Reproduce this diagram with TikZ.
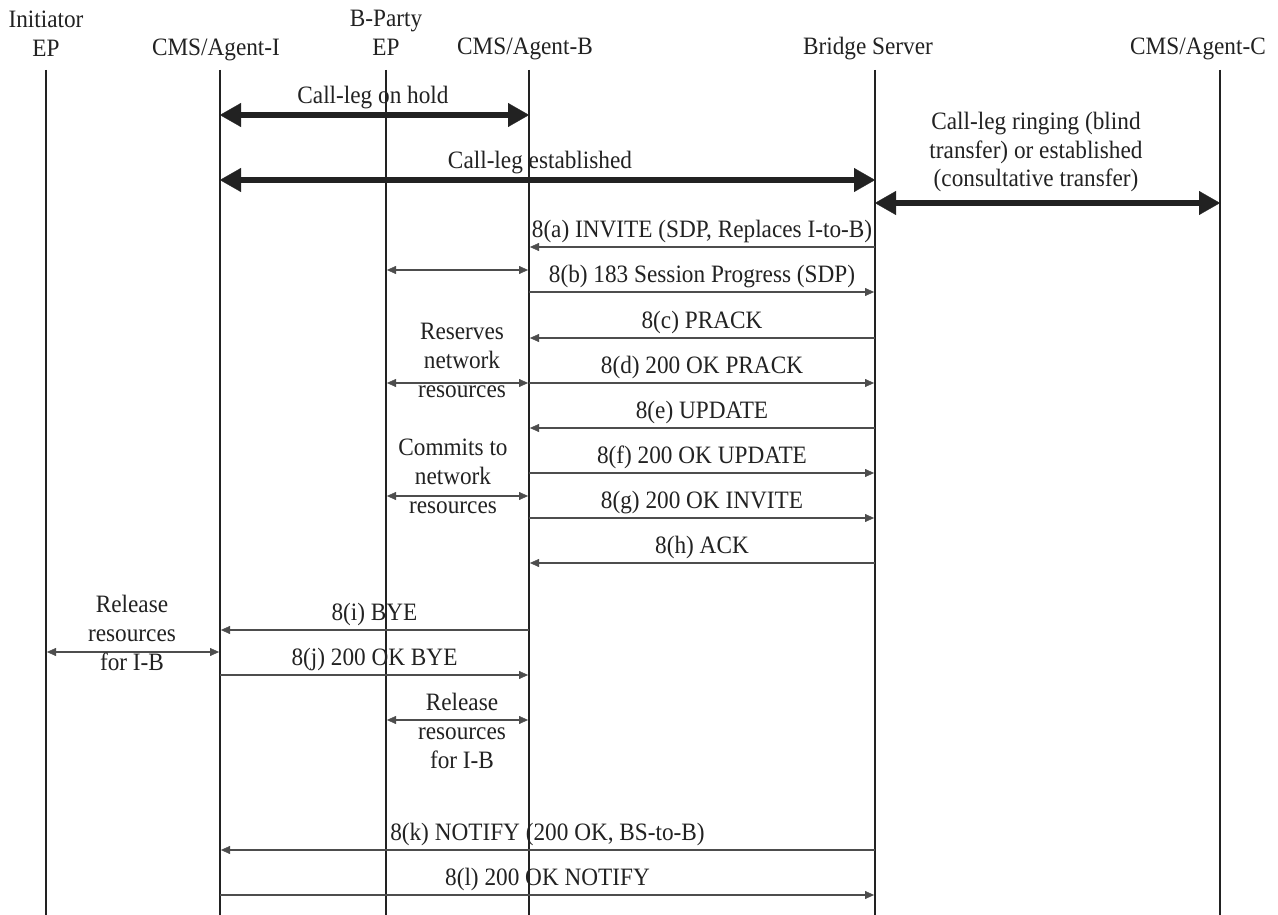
\documentclass[tikz,border=0pt]{standalone}
\usepackage{fontspec}
\setmainfont{Liberation Serif}[FakeStretch=0.93]
\usetikzlibrary{arrows.meta}
\definecolor{ink}{HTML}{222222}
\definecolor{msg}{HTML}{4D4D4D}
\begin{document}
\begin{tikzpicture}[x=1pt,y=-1pt,
  font=\fontsize{25}{29}\selectfont,
  life/.style={line width=1.3pt, draw=ink},
  msgarrow/.style={line width=1.4pt, draw=msg, -{Triangle[length=9pt,width=8pt,line width=0.3pt]}, shorten >=1pt},
  twoway/.style={line width=1.4pt, draw=msg, {Triangle[length=9pt,width=8pt,line width=0.3pt]}-{Triangle[length=9pt,width=8pt,line width=0.3pt]}, shorten >=1pt, shorten <=1pt},
  bigarrow/.style={line width=6pt, draw=ink, {Triangle[length=21pt,width=24pt,line width=0.3pt]}-{Triangle[length=21pt,width=24pt,line width=0.3pt]}},
  lbl/.style={inner sep=0pt, anchor=base, text=ink, align=center},
  msglbl/.style={lbl, midway, yshift=10pt}]
% canvas
\path[use as bounding box, fill=white] (0,0) rectangle (1278,915);
% lifelines
\coordinate (I)  at (46,70);
\coordinate (AI) at (220,70);
\coordinate (BP) at (386,70);
\coordinate (AB) at (529,70);
\coordinate (BS) at (875,70);
\coordinate (AC) at (1220,70);
\coordinate (Ie)  at (46,915);
\coordinate (AIe) at (220,915);
\coordinate (BPe) at (386,915);
\coordinate (ABe) at (529,915);
\coordinate (BSe) at (875,915);
\coordinate (ACe) at (1220,915);
\draw[life] (I) -- (Ie);
\draw[life] (AI) -- (AIe);
\draw[life] (BP) -- (BPe);
\draw[life] (AB) -- (ABe);
\draw[life] (BS) -- (BSe);
\draw[life] (AC) -- (ACe);
% headers (base anchor = last line's baseline)
\node[lbl] (hI)  at (46,57)   {Initiator\\EP};
\node[lbl] (hAI) at (216,56)  {CMS/Agent-I};
\node[lbl] (hBP) at (386,56)  {B-Party\\EP};
\node[lbl] (hAB) at (525,55)  {CMS/Agent-B};
\node[lbl] (hBS) at (868,55)  {Bridge Server};
\node[lbl] (hAC) at (1198,55) {CMS/Agent-C};
% thick call legs
\draw[bigarrow] (AI |- 0,115) -- (AB |- 0,115);
\node[lbl] (tHold) at (373,104) {Call-leg on hold};
\draw[bigarrow] (AI |- 0,180) -- (BS |- 0,180);
\node[lbl] (tEst) at (540,168) {Call-leg established};
\draw[bigarrow] (BS |- 0,203) -- (AC |- 0,203);
\node[lbl] (tRing) at (1036,187) {Call-leg ringing (blind\\transfer) or established\\(consultative transfer)};
% messages
\draw[msgarrow] (BS |- 0,247) -- node[msglbl] (ma) {8(a) INVITE (SDP, Replaces I-to-B)} (AB |- 0,247);
\draw[twoway] (BP |- 0,270) -- (AB |- 0,270);
\draw[msgarrow] (AB |- 0,292) -- node[msglbl] (mb) {8(b) 183 Session Progress (SDP)} (BS |- 0,292);
\draw[msgarrow] (BS |- 0,338) -- node[msglbl] (mc) {8(c) PRACK} (AB |- 0,338);
\draw[msgarrow] (AB |- 0,383) -- node[msglbl] (md) {8(d) 200 OK PRACK} (BS |- 0,383);
\draw[twoway] (BP |- 0,383) -- (AB |- 0,383);
\node[lbl] (tRes) at (462,397) {Reserves\\network\\resources};
\draw[msgarrow] (BS |- 0,428) -- node[msglbl] (me) {8(e) UPDATE} (AB |- 0,428);
\draw[msgarrow] (AB |- 0,473) -- node[msglbl] (mf) {8(f) 200 OK UPDATE} (BS |- 0,473);
\draw[twoway] (BP |- 0,496) -- (AB |- 0,496);
\node[lbl] (tCom) at (453,513) {Commits to\\network\\resources};
\draw[msgarrow] (AB |- 0,518) -- node[msglbl] (mg) {8(g) 200 OK INVITE} (BS |- 0,518);
\draw[msgarrow] (BS |- 0,563) -- node[msglbl] (mh) {8(h) ACK} (AB |- 0,563);
\draw[msgarrow] (AB |- 0,630) -- node[msglbl] (mi) {8(i) BYE} (AI |- 0,630);
\draw[twoway] (I |- 0,652) -- (AI |- 0,652);
\node[lbl] (tRelI) at (132,670) {Release\\resources\\for I-B};
\draw[msgarrow] (AI |- 0,675) -- node[msglbl] (mj) {8(j) 200 OK BYE} (AB |- 0,675);
\draw[twoway] (BP |- 0,720) -- (AB |- 0,720);
\node[lbl] (tRelB) at (462,768) {Release\\resources\\for I-B};
\draw[msgarrow] (BS |- 0,850) -- node[msglbl] (mk) {8(k) NOTIFY (200 OK, BS-to-B)} (AI |- 0,850);
\draw[msgarrow] (AI |- 0,895) -- node[msglbl] (ml) {8(l) 200 OK NOTIFY} (BS |- 0,895);
\end{tikzpicture}
\end{document}
